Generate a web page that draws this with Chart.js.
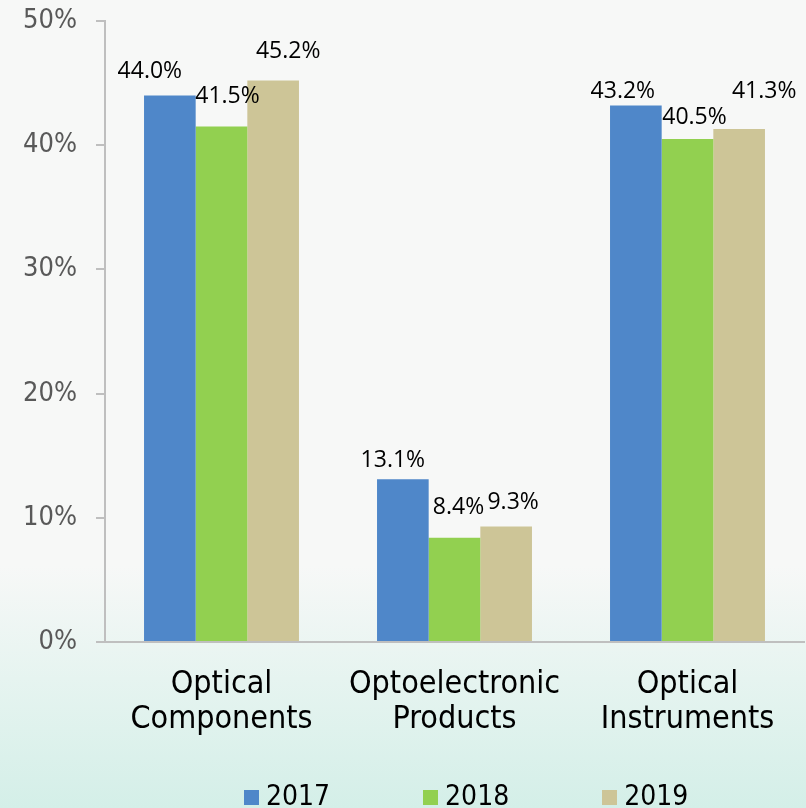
<!DOCTYPE html>
<html>
<head>
<meta charset="utf-8">
<script src="https://cdn.jsdelivr.net/npm/chart.js@4"></script>
<style>
    html, body { margin: 0; padding: 0; width: 806px; height: 808px; overflow: hidden; }
    body { background: linear-gradient(to bottom, #f7f8f7 0%, #f7f8f7 70%, #e6f4f0 84%, #d4efe8 100%); position: relative; }
    #wrap { position: absolute; left: 0; top: 0; width: 806px; height: 808px; }
    #legend { position: absolute; left: 244px; top: 779px; display: flex; font-family: "DejaVu Sans Condensed", "DejaVu Sans", sans-serif; font-size: 28px; color: #000; }
    .item { display: flex; align-items: center; margin-right: 93px; }
    .box { width: 15px; height: 15px; margin-right: 7px; margin-top: 4px; }
</style>
</head>
<body>
<div id="wrap"><canvas id="chart" width="806" height="808"></canvas></div>
<div id="legend"></div>
<script>
const categories = [['Optical', 'Components'], ['Optoelectronic', 'Products'], ['Optical', 'Instruments']];
const years = ['2017', '2018', '2019'];
const values2017 = [44.0, 13.1, 43.2];
const values2018 = [41.5, 8.4, 40.5];
const values2019 = [45.2, 9.3, 41.3];
const yTicks = [0, 10, 20, 30, 40, 50];
const colors = ['#4f87c9', '#92d050', '#cdc597'];

// hand-placed label nudges (dx, dy from bar top centre), like the source
const labelNudge = [
    [[-20, -24], [-10, -19], [-13, -14]],
    [[6, -30], [4, -30], [7, -22]],
    [[15, -29], [7, -24], [25, -38]]
];

const dataLabels = {
    id: 'dataLabels',
    afterDatasetsDraw(chart) {
        const ctx = chart.ctx;
        ctx.save();
        ctx.font = '23px "Open Sans", sans-serif';
        ctx.fillStyle = '#000';
        ctx.textAlign = 'center';
        ctx.textBaseline = 'middle';
        chart.data.datasets.forEach((ds, di) => {
            chart.getDatasetMeta(di).data.forEach((bar, i) => {
                const n = labelNudge[di][i];
                ctx.fillText(ds.data[i].toFixed(1) + '%', bar.x + n[0], bar.y + n[1]);
            });
        });
        ctx.restore();
    }
};

const seriesValues = [values2017, values2018, values2019];

const chart = new Chart(document.getElementById('chart').getContext('2d'), {
    type: 'bar',
    data: {
        labels: categories,
        datasets: years.map((y, i) => ({
            label: y,
            data: seriesValues[i],
            backgroundColor: colors[i],
            categoryPercentage: 0.665,
            barPercentage: 1.0,
            borderWidth: 0
        }))
    },
    options: {
        responsive: false,
        animation: false,
        layout: { padding: { top: 21, right: 2, left: 0, bottom: 0 } },
        plugins: { legend: { display: false }, tooltip: { enabled: false } },
        scales: {
            x: {
                grid: { display: false },
                border: { display: true, color: '#bfbfbf', width: 2 },
                ticks: {
                    color: '#000',
                    padding: 17,
                    font: { family: '"DejaVu Sans Condensed", "DejaVu Sans", sans-serif', size: 32, lineHeight: 1.09 },
                    maxRotation: 0,
                    autoSkip: false
                },
                afterFit: scale => { scale.height = 166; scale.paddingLeft = 0; scale.paddingRight = 0; }
            },
            y: {
                min: 0,
                max: 50,
                afterBuildTicks: scale => { scale.ticks = yTicks.map(v => ({ value: v })); },
                grid: { drawOnChartArea: false, drawTicks: true, tickLength: 9, color: '#bfbfbf', lineWidth: 2 },
                border: { display: true, color: '#bfbfbf', width: 2 },
                ticks: {
                    color: '#595959',
                    padding: 19,
                    font: { family: '"DejaVu Sans Condensed", "DejaVu Sans", sans-serif', size: 27 },
                    callback: v => v + '%'
                },
                afterFit: scale => { scale.width = 105; scale.paddingTop = 0; scale.paddingBottom = 0; }
            }
        }
    },
    plugins: [dataLabels]
});

// Legend
const legend = document.getElementById('legend');
legend.innerHTML = chart.data.datasets.map(ds => `
    <div class="item"><div class="box" style="background:${ds.backgroundColor}"></div><span>${ds.label}</span></div>
`).join('');
</script>
</body>
</html>
